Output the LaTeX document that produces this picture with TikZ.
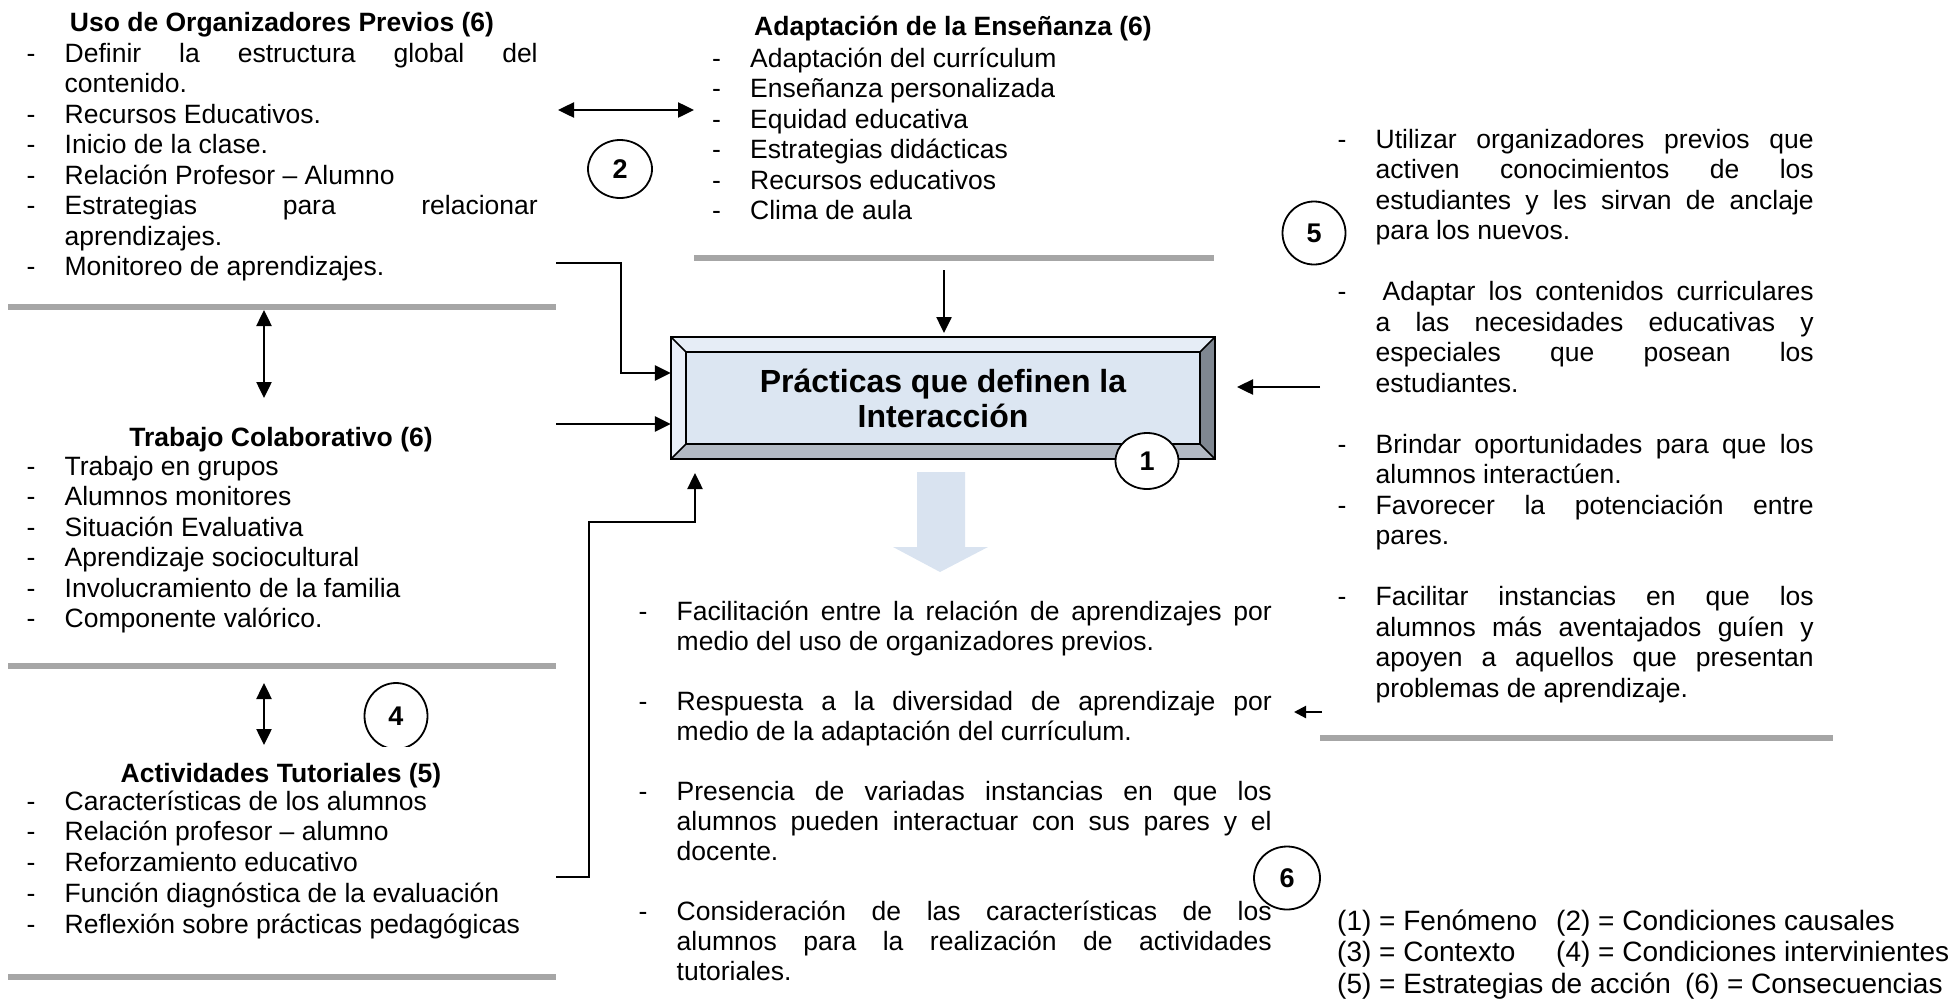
\documentclass[tikz,border=0pt]{standalone}
\usepackage{fontspec}
\setmainfont{Liberation Sans}
\usetikzlibrary{arrows.meta,calc,shapes.geometric}

\definecolor{sepgray}{HTML}{A6A6A6}
\definecolor{facec}{HTML}{DCE6F2}
\definecolor{topc}{HTML}{E6EDF6}
\definecolor{leftc}{HTML}{E9EFF8}
\definecolor{botc}{HTML}{B3BAC4}
\definecolor{rightc}{HTML}{7F8791}
\definecolor{bluearrow}{HTML}{D9E3F0}

\newlength\dashw \setlength\dashw{38pt}
\newlength\jw
\newcommand\Ditem[1]{\hbox{\makebox[\dashw][l]{-}#1}}
\newcommand\Djust[1]{\hbox{\makebox[\dashw][l]{-}\makebox[\jw][s]{#1}}}
\newcommand\Cline[1]{\hbox{\hspace*{\dashw}#1}}
\newcommand\Cjust[1]{\hbox{\hspace*{\dashw}\makebox[\jw][s]{#1}}}
\newcommand\Blank{\hbox{}}
\newcommand\Block[3]{\vtop{\setlength\jw{#1}\baselineskip=#2\relax\lineskiplimit=-\maxdimen\relax #3}}

\tikzset{
  txt/.style={font=\fontsize{26.5}{30.5}\selectfont, inner sep=0pt, anchor=base west},
  ttl/.style={font=\fontsize{26.5}{30.5}\selectfont\bfseries, inner sep=0pt, anchor=base},
  sep/.style={line width=5.5pt, draw=sepgray},
  arr/.style={line width=2.5pt, -{Triangle[length=16pt,width=15pt]}},
  darr/.style={line width=2.5pt, {Triangle[length=16pt,width=15pt]}-{Triangle[length=16pt,width=15pt]}},
  sarr/.style={line width=2.2pt, -{Triangle[length=12pt,width=12pt]}},
  num/.style={draw, line width=1.8pt, ellipse, fill=white, inner sep=0pt,
    font=\fontsize{27}{27}\selectfont\bfseries},
  bev/.style={draw=black, line width=1.5pt, line join=miter},
}

\begin{document}
\begin{tikzpicture}[x=1pt, y=-1pt]
\useasboundingbox (0,0) rectangle (1954,1002);

% ---------- left column ----------
\node[ttl] (t1) at (282,31) {Uso de Organizadores Previos (6)};
\node[txt] (b1) at (26.5,62) {\Block{473pt}{30.5pt}{%
  \Djust{Definir la estructura global del}
  \Cline{contenido.}
  \Ditem{Recursos Educativos.}
  \Ditem{Inicio de la clase.}
  \Ditem{Relación Profesor – Alumno}
  \Djust{Estrategias para relacionar}
  \Cline{aprendizajes.}
  \Ditem{Monitoreo de aprendizajes.}}};
\draw[sep] (8,307) -- (556,307);

\node[ttl] (t2) at (281,446) {Trabajo Colaborativo (6)};
\node[txt] (b2) at (26.5,475) {\Block{473pt}{30.5pt}{%
  \Ditem{Trabajo en grupos}
  \Ditem{Alumnos monitores}
  \Ditem{Situación Evaluativa}
  \Ditem{Aprendizaje sociocultural}
  \Ditem{Involucramiento de la familia}
  \Ditem{Componente valórico.}}};
\draw[sep] (8,666) -- (556,666);

\node[ttl] (t3) at (281,782) {Actividades Tutoriales (5)};
\node[txt] (b3) at (26.5,810) {\Block{473pt}{30.8pt}{%
  \Ditem{Características de los alumnos}
  \Ditem{Relación profesor – alumno}
  \Ditem{Reforzamiento educativo}
  \Ditem{Función diagnóstica de la evaluación}
  \Ditem{Reflexión sobre prácticas pedagógicas}}};
\draw[sep] (8,977) -- (556,977);

% vertical double arrows
\coordinate (a2t) at (264,310); \coordinate (a2b) at (264,398);
\draw[darr] (a2t) -- (a2b);
\coordinate (a3t) at (264,683); \coordinate (a3b) at (264,745);
\draw[darr] (a3t) -- (a3b);

\begin{scope}
  \clip (340,660) rectangle (460,746);
  \node[num, minimum width=63pt, minimum height=66pt] (n4) at (396,716) {4};
\end{scope}

% ---------- top centre ----------
\node[ttl] (t4) at (953,35) {Adaptación de la Enseñanza (6)};
\node[txt] (b4) at (712,67) {\Block{400pt}{30.5pt}{%
  \Ditem{Adaptación del currículum}
  \Ditem{Enseñanza personalizada}
  \Ditem{Equidad educativa}
  \Ditem{Estrategias didácticas}
  \Ditem{Recursos educativos}
  \Ditem{Clima de aula}}};
\draw[sep] (694,258) -- (1214,258);

\coordinate (a1l) at (558,110); \coordinate (a1r) at (694,110);
\draw[darr] (a1l) -- (a1r);
\node[num, minimum width=64pt, minimum height=58pt] (n2) at (620,169) {2};

% ---------- central box ----------
\fill[topc] (671,337) -- (1215,337) -- (1200,352) -- (686,352) -- cycle;
\fill[leftc] (671,337) -- (686,352) -- (686,444) -- (671,459) -- cycle;
\fill[botc] (671,459) -- (686,444) -- (1200,444) -- (1215,459) -- cycle;
\fill[rightc] (1215,337) -- (1215,459) -- (1200,444) -- (1200,352) -- cycle;
\fill[facec] (686,352) rectangle (1200,444);
\draw[bev] (686,352) rectangle (1200,444);
\draw[bev] (671,337) -- (686,352) (1215,337) -- (1200,352)
           (671,459) -- (686,444) (1215,459) -- (1200,444);
\draw[line width=2.5pt] (671,337) rectangle (1215,459);
\node[inner sep=0pt, minimum width=544pt, minimum height=122pt, align=center,
      font=\fontsize{32}{35}\selectfont\bfseries] (box) at (943,398)
      {Prácticas que definen la\\Interacción};
\node[num, minimum width=63pt, minimum height=56pt] (n1) at (1147,461) {1};

% connectors into the box
\coordinate (c1s) at (556,263); \coordinate (k1) at (621,373);
\draw[arr] (c1s) -| (k1) -- (box.west |- k1);
\coordinate (c2s) at (556,424);
\draw[arr] (c2s) -- (box.west |- c2s);
\coordinate (c3s) at (556,877); \coordinate (k3) at (589,522); \coordinate (c3e) at (695,473);
\draw[arr] (c3s) -| (k3) -| (c3e);
\coordinate (c4s) at (944,270); \coordinate (c4e) at (944,333);
\draw[arr] (c4s) -- (c4e);
\coordinate (c5s) at (1320,387); \coordinate (c5e) at (1237,387);
\draw[arr] (c5s) -- (c5e);

% big light-blue arrow
\fill[bluearrow] (917,472) -- (965,472) -- (965,547) -- (988,547) -- (940,572)
   -- (893,547) -- (917,547) -- cycle;

% ---------- consequences ----------
\node[txt] (b5) at (638.5,620) {\Block{595pt}{30pt}{%
  \Djust{Facilitación entre la relación de aprendizajes por}
  \Cline{medio del uso de organizadores previos.}
  \Blank
  \Djust{Respuesta a la diversidad de aprendizaje por}
  \Cline{medio de la adaptación del currículum.}
  \Blank
  \Djust{Presencia de variadas instancias en que los}
  \Cjust{alumnos pueden interactuar con sus pares y el}
  \Cline{docente.}
  \Blank
  \Djust{Consideración de las características de los}
  \Cjust{alumnos para la realización de actividades}
  \Cline{tutoriales.}}};
\node[num, minimum width=66pt, minimum height=63pt] (n6) at (1287,878) {6};

% ---------- right column ----------
\node[num, minimum width=63pt, minimum height=63pt] (n5) at (1314,233) {5};
\node[txt] (b6) at (1337.5,148) {\Block{438pt}{30.5pt}{%
  \Djust{Utilizar organizadores previos que}
  \Cjust{activen conocimientos de los}
  \Cjust{estudiantes y les sirvan de anclaje}
  \Cline{para los nuevos.}
  \Blank
  \Djust{\kern7pt Adaptar los contenidos curriculares}
  \Cjust{a las necesidades educativas y}
  \Cjust{especiales que posean los}
  \Cline{estudiantes.}
  \Blank
  \Djust{Brindar oportunidades para que los}
  \Cline{alumnos interactúen.}
  \Djust{Favorecer la potenciación entre}
  \Cline{pares.}
  \Blank
  \Djust{Facilitar instancias en que los}
  \Cjust{alumnos más aventajados guíen y}
  \Cjust{apoyen a aquellos que presentan}
  \Cline{problemas de aprendizaje.}}};
\draw[sep] (1320,738) -- (1833,738);
\coordinate (c6s) at (1322,712); \coordinate (c6e) at (1294,712);
\draw[sarr] (c6s) -- (c6e);

% ---------- legend ----------
\node[inner sep=0pt, anchor=base west, font=\fontsize{28}{29}\selectfont] (leg) at (1337,930)
  {\vtop{\baselineskip=31.5pt\lineskiplimit=-\maxdimen
   \hbox{\makebox[219pt][l]{(1) = Fenómeno}(2) = Condiciones causales}
   \hbox{\makebox[219pt][l]{(3) = Contexto}(4) = Condiciones intervinientes}
   \hbox{(5) = Estrategias de acción\hspace{0.5em}(6) = Consecuencias}}};
\end{tikzpicture}
\end{document}
